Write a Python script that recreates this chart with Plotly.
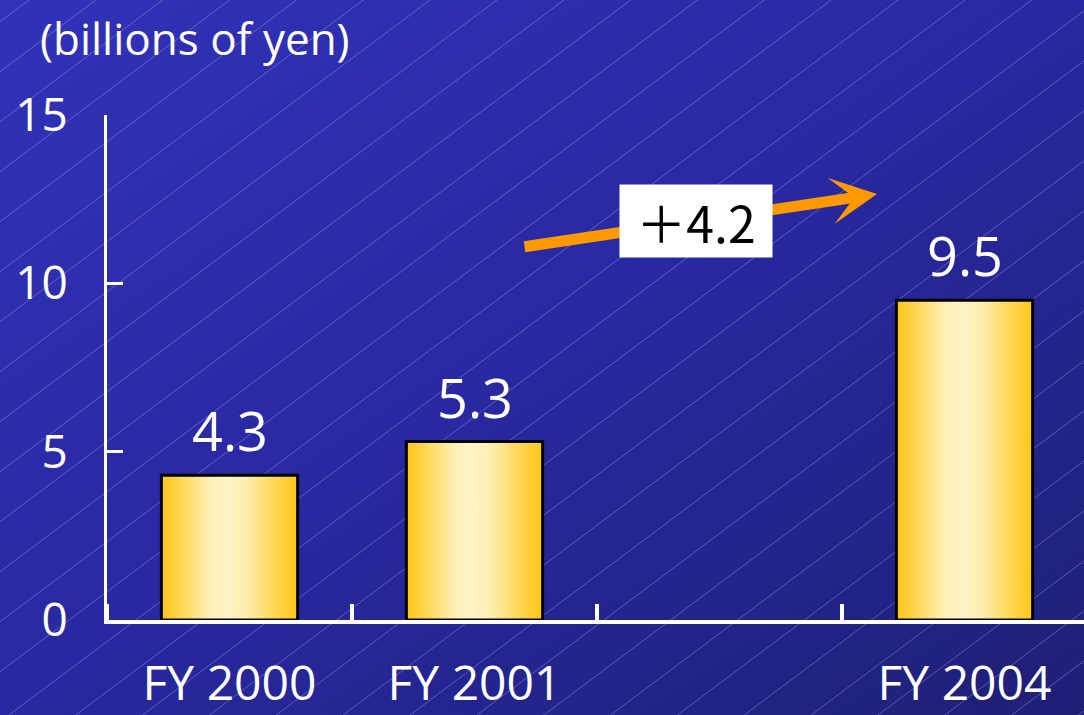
import base64
import plotly.graph_objects as go

# Sales by fiscal year (billions of yen)
slot_labels = ["FY 2000", "FY 2001", "", "FY 2004"]
bar_slots = [0, 1, 3]
bar_values = [4.3, 5.3, 9.5]
y_tick_values = [0, 5, 10, 15]

W, H = 1084, 715
M_L, M_R, M_T, M_B = 107, 0, 115, 95
PLOT_W = W - M_L - M_R
PLOT_H = H - M_T - M_B
BAR_HALF = 0.278
FONT = "Open Sans"

# ---- background: diagonal blue gradient with thin light hatching ----
lines = []
slope = 0.748
c = 21.7 - 50 * 2
while c < H + slope * W + 50:
    lines.append(f"<line x1='0' y1='{c:.1f}' x2='{W}' y2='{c - slope * W:.1f}'/>")
    c += 50
svg = (
    f"<svg xmlns='http://www.w3.org/2000/svg' width='{W}' height='{H}' viewBox='0 0 {W} {H}' preserveAspectRatio='none'>"
    "<defs><linearGradient id='g' x1='0' y1='0' x2='1' y2='1'>"
    "<stop offset='0' stop-color='#3232BA'/><stop offset='0.5' stop-color='#2828A0'/>"
    "<stop offset='1' stop-color='#1F1F76'/></linearGradient></defs>"
    f"<rect width='{W}' height='{H}' fill='url(#g)'/>"
    "<g stroke='#A8A8F0' stroke-opacity='0.42' stroke-width='1'>" + "".join(lines) + "</g></svg>"
)
bg_src = "data:image/svg+xml;base64," + base64.b64encode(svg.encode()).decode()

fig = go.Figure()

# ---- bars with a horizontal gold gradient ----
gold_scale = [
    [0.0, "#FFC614"], [0.13, "#FFD44E"], [0.35, "#FFEFB4"], [0.48, "#FFF4C8"],
    [0.62, "#FFEEB0"], [0.86, "#FFD449"], [1.0, "#FFC614"],
]
for xs, v in zip(bar_slots, bar_values):
    fig.add_trace(go.Scatter(
        x=[xs - BAR_HALF, xs + BAR_HALF, xs + BAR_HALF, xs - BAR_HALF, xs - BAR_HALF],
        y=[0, 0, v, v, 0],
        mode="lines",
        fill="toself",
        fillgradient=dict(type="horizontal", colorscale=gold_scale),
        line=dict(color="black", width=3),
        hoverinfo="skip",
        showlegend=False,
    ))

annotations = []
for xs, v in zip(bar_slots, bar_values):
    annotations.append(dict(
        x=xs, y=v, xref="x", yref="y", text=f"{v:.1f}", showarrow=False,
        yanchor="bottom", yshift=6,
        font=dict(family=FONT, size=54, color="white"),
    ))

# growth arrow from FY 2001 to FY 2004
growth = bar_values[2] - bar_values[1]
annotations.append(dict(
    x=2.643, y=12.65, ax=1.198, ay=11.08, xref="x", yref="y", axref="x", ayref="y",
    text="", showarrow=True, arrowhead=3, arrowsize=0.7, arrowwidth=11,
    arrowcolor="#FF9900", standoff=0,
))
annotations.append(dict(
    x=1.904, y=11.85, xref="x", yref="y", text=f"＋{growth:.1f}", showarrow=False,
    bgcolor="white", width=150, height=70, borderpad=1,
    font=dict(family="Noto Sans CJK JP", size=50, color="black"),
))

# unit label
annotations.append(dict(
    x=(38 - M_L) / PLOT_W, y=(H - M_B - 38) / PLOT_H, xref="paper", yref="paper",
    text="(billions of yen)", showarrow=False, xanchor="left", yanchor="middle",
    font=dict(family=FONT, size=44, color="white"),
))

fig.update_layout(
    width=W, height=H,
    margin=dict(l=M_L, r=M_R, t=M_T, b=M_B, pad=0, autoexpand=False),
    paper_bgcolor="#2828A0",
    plot_bgcolor="rgba(0,0,0,0)",
    showlegend=False,
    annotations=annotations,
    images=[dict(
        source=bg_src, xref="paper", yref="paper",
        x=-M_L / PLOT_W, y=(H - M_B) / PLOT_H,
        sizex=W / PLOT_W, sizey=H / PLOT_H,
        xanchor="left", yanchor="top", sizing="stretch", layer="below",
    )],
    xaxis=dict(
        range=[-0.5, -0.5 + PLOT_W / 245.0],
        tickmode="array", tickvals=list(range(len(slot_labels))), ticktext=slot_labels,
        ticks="", ticklabelstandoff=18, automargin=False,
        tickfont=dict(family=FONT, size=48, color="white"),
        minor=dict(tickmode="array", tickvals=[-0.5, 0.5, 1.5, 2.5],
                   ticks="inside", ticklen=16, tickwidth=4, tickcolor="white"),
        showline=True, linecolor="white", linewidth=4,
        showgrid=False, zeroline=False, fixedrange=True,
    ),
    yaxis=dict(
        range=[0, 15], tickmode="array", tickvals=y_tick_values,
        ticks="inside", ticklen=16, tickwidth=3, tickcolor="white",
        ticklabelstandoff=27, automargin=False,
        tickfont=dict(family=FONT, size=46, color="white"),
        showline=True, linecolor="white", linewidth=3,
        showgrid=False, zeroline=False, fixedrange=True,
    ),
)

fig.write_html("out.html")
